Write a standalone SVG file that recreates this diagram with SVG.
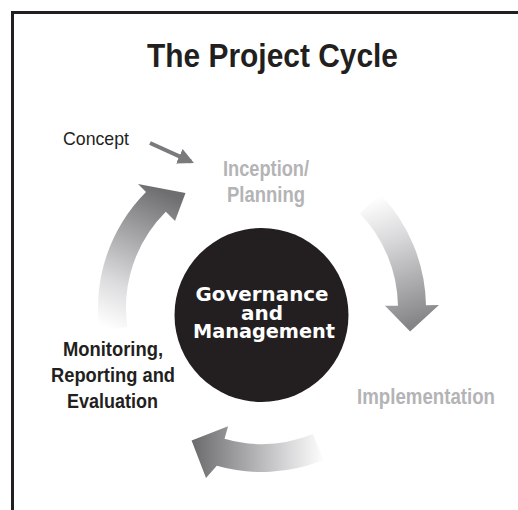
<svg xmlns="http://www.w3.org/2000/svg" width="518" height="510" viewBox="0 0 518 510">
<style>
.cond{font-family:"Liberation Sans",Arial,sans-serif;font-weight:bold}
.dark{fill:#231f20}
.light{fill:#b4b4b6}
.lbl{font-size:22px}
.blk{font-size:21px}
.gov{font-family:"DejaVu Sans","Liberation Sans",sans-serif;font-weight:bold;font-size:20px;fill:#ffffff;text-anchor:middle}
</style>
<defs>
<linearGradient id="gR" gradientUnits="userSpaceOnUse" x1="368" y1="200" x2="412" y2="325">
<stop offset="0" stop-color="#ffffff"/><stop offset="0.35" stop-color="#d8d8da"/><stop offset="1" stop-color="#858587"/>
</linearGradient>
<linearGradient id="gB" gradientUnits="userSpaceOnUse" x1="325" y1="450" x2="195" y2="450">
<stop offset="0" stop-color="#ffffff"/><stop offset="0.3" stop-color="#d6d6d8"/><stop offset="1" stop-color="#6e6e70"/>
</linearGradient>
<linearGradient id="gL" gradientUnits="userSpaceOnUse" x1="112" y1="330" x2="172" y2="195">
<stop offset="0" stop-color="#ffffff"/><stop offset="0.3" stop-color="#dcdcde"/><stop offset="1" stop-color="#6e6e70"/>
</linearGradient>
<marker id="ah" markerWidth="4" markerHeight="4" refX="3.2" refY="2" orient="auto" markerUnits="strokeWidth">
<path d="M0,0 L4,2 L0,4 Z" fill="#7a7a7c"/>
</marker>
</defs>
<rect width="518" height="510" fill="#ffffff"/>
<path d="M12.5,510 V12.5 H518" fill="none" stroke="#231f20" stroke-width="3"/>
<g id="title"><text class="cond dark" x="147" y="67" font-size="33" textLength="251" lengthAdjust="spacingAndGlyphs">The Project Cycle</text></g>
<g id="connectors">
<path id="arrow-right" d="M379.97,194.07 A164,164 0 0 1 425.98,305.14 L438.97,304.91 L410.15,331.46 L384.98,305.85 L397.98,305.63 A136,136 0 0 0 359.82,213.52 Z" fill="url(#gR)"/>
<path id="arrow-bottom" d="M323.43,460.06 A164,164 0 0 1 216.80,465.65 L206,478 L191.58,440.44 L228.10,426.24 L224.52,438.74 A136,136 0 0 0 312.95,434.10 Z" fill="url(#gB)"/>
<path id="arrow-left" d="M99.59,330.83 A164,164 0 0 1 146.0,192.0 L138,184 L185.5,193.0 L175.0,221.0 L165.8,211.8 A136,136 0 0 0 127.32,326.93 Z" fill="url(#gL)"/>
<line id="arrow-concept" x1="150" y1="143" x2="191" y2="161.6" stroke="#7a7a7c" stroke-width="4" marker-end="url(#ah)"/>
</g>
<g id="concept"><text class="dark" x="63" y="145" font-family="'Liberation Sans',Arial,sans-serif" font-size="19" textLength="66" lengthAdjust="spacingAndGlyphs">Concept</text></g>
<g id="inception">
<text class="cond light lbl" x="223" y="176" textLength="86" lengthAdjust="spacingAndGlyphs">Inception/</text>
<text class="cond light lbl" x="227" y="202" textLength="78" lengthAdjust="spacingAndGlyphs">Planning</text>
</g>
<g id="implementation"><text class="cond light lbl" x="357" y="404" textLength="138" lengthAdjust="spacingAndGlyphs">Implementation</text></g>
<g id="monitoring">
<text class="cond dark blk" x="63" y="356" textLength="100" lengthAdjust="spacingAndGlyphs">Monitoring,</text>
<text class="cond dark blk" x="51" y="382" textLength="124" lengthAdjust="spacingAndGlyphs">Reporting and</text>
<text class="cond dark blk" x="67" y="408" textLength="91" lengthAdjust="spacingAndGlyphs">Evaluation</text>
</g>
<g id="governance">
<circle cx="261.5" cy="315" r="87" fill="#231f20"/>
<text class="gov" x="262" y="301" textLength="133" lengthAdjust="spacingAndGlyphs">Governance</text>
<text class="gov" x="262" y="319.5">and</text>
<text class="gov" x="264" y="338" textLength="142" lengthAdjust="spacingAndGlyphs">Management</text>
</g>
</svg>
